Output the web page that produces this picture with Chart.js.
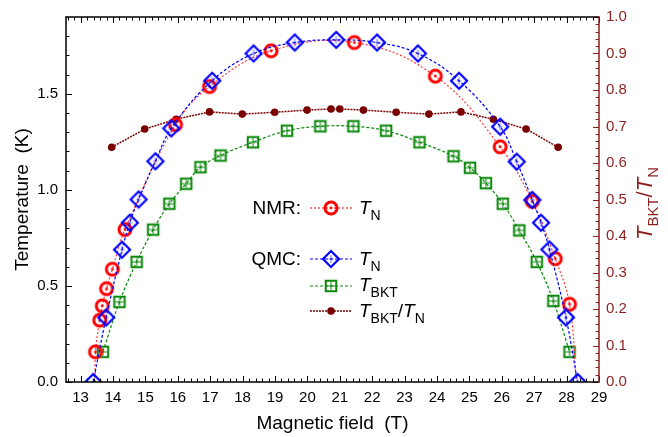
<!DOCTYPE html>
<html>
<head>
<meta charset="utf-8">
<script src="https://cdn.jsdelivr.net/npm/chart.js@4/dist/chart.umd.min.js"></script>
<style>
  html, body { margin: 0; padding: 0; background: #fff; }
  #wrap { width: 668px; height: 437px; }
</style>
</head>
<body>
<div id="wrap"><canvas id="c" width="668" height="437"></canvas></div>
<script>
// ---- NMR: Néel temperature vs magnetic field ----
const nmrField = [13.46, 13.59, 13.67, 13.80, 13.98, 14.37, 15.93, 16.98, 18.88, 21.45, 23.95, 25.95, 26.94, 27.65, 28.09];
const nmrTN    = [0.157, 0.322, 0.396, 0.486, 0.587, 0.794, 1.340, 1.538, 1.724, 1.767, 1.592, 1.224, 0.940, 0.642, 0.405];
// where the NMR guide curve meets the field axis
const nmrCurveStart = { x: 13.45, y: 0 };
const nmrCurveEnd   = { x: 28.30, y: 0 };

// ---- QMC: Néel temperature ----
const qmcField = [13.39, 13.79, 14.28, 14.52, 14.79, 15.31, 15.80, 17.06, 18.34, 19.61, 20.89,
                  22.15, 23.41, 24.68, 25.95, 26.46, 26.94, 27.21, 27.47, 27.98, 28.34];
const qmcTN    = [0.000, 0.336, 0.689, 0.829, 0.950, 1.149, 1.320, 1.568, 1.710, 1.767, 1.781,
                  1.767, 1.710, 1.568, 1.329, 1.147, 0.948, 0.829, 0.690, 0.336, 0.000];

// ---- QMC: BKT temperature ----
const bktField = [13.69, 14.20, 14.73, 15.24, 15.74, 16.26, 16.70, 17.32, 18.32, 19.37, 20.40,
                  21.42, 22.43, 23.46, 24.51, 25.02, 25.51, 26.03, 26.54, 27.08, 27.59, 28.09];
const bktT     = [0.157, 0.417, 0.625, 0.793, 0.928, 1.032, 1.118, 1.179, 1.248, 1.308, 1.331,
                  1.331, 1.308, 1.248, 1.175, 1.115, 1.035, 0.928, 0.789, 0.625, 0.422, 0.157];

// ---- QMC: ratio T_BKT / T_N (right axis) ----
const ratioField = [13.96, 14.98, 15.95, 16.98, 17.99, 18.99, 19.99, 20.73, 21.00, 21.73, 22.74, 23.75, 24.74, 25.74, 26.75, 27.74];
const ratioVals  = [0.643, 0.693, 0.720, 0.740, 0.734, 0.739, 0.745, 0.748, 0.748, 0.745, 0.739, 0.734, 0.740, 0.720, 0.693, 0.643];

// ---- tick labels ----
const fieldTicks = [13, 14, 15, 16, 17, 18, 19, 20, 21, 22, 23, 24, 25, 26, 27, 28, 29];
const tempTicks  = [0, 0.5, 1.0, 1.5];
const ratioTicks = [0, 0.1, 0.2, 0.3, 0.4, 0.5, 0.6, 0.7, 0.8, 0.9, 1.0];

const RED = '#ff0000', BLUE = '#0000ff', GREEN = '#0a870a', MAROON = '#7a0000', AXIS_RED = '#8e1f1f';
const FONT = '"Liberation Sans", Arial, sans-serif';

const pts = (xs, ys) => xs.map((x, i) => ({ x: x, y: ys[i] }));

// open marker glyphs used for the plot and the key
function markerCanvas(kind, color) {
  const s = 24, m = s / 2;
  const cv = document.createElement('canvas');
  cv.width = s; cv.height = s;
  const g = cv.getContext('2d');
  g.strokeStyle = color; g.fillStyle = color;
  if (kind === 'circle') {
    g.lineWidth = 3;
    g.beginPath(); g.arc(m, m, 6, 0, Math.PI * 2); g.stroke();
    g.beginPath(); g.arc(m, m, 1.4, 0, Math.PI * 2); g.fill();
  } else if (kind === 'diamond') {
    g.lineWidth = 2.2;
    g.beginPath();
    g.moveTo(m, m - 8); g.lineTo(m + 8, m); g.lineTo(m, m + 8); g.lineTo(m - 8, m);
    g.closePath(); g.stroke();
    g.lineWidth = 0.8; g.globalAlpha = 0.7;
    g.beginPath();
    g.moveTo(m, m - 4); g.lineTo(m, m + 4);
    g.moveTo(m - 2.5, m); g.lineTo(m + 2.5, m);
    g.stroke();
  } else if (kind === 'square') {
    g.lineWidth = 2;
    g.strokeRect(m - 5.25, m - 5.25, 10.5, 10.5);
    g.lineWidth = 1;
    g.beginPath();
    g.moveTo(m, m - 4); g.lineTo(m, m + 4);
    g.moveTo(m - 4, m); g.lineTo(m + 4, m);
    g.stroke();
  }
  return cv;
}
const circleMark = markerCanvas('circle', RED);
const diamondMark = markerCanvas('diamond', BLUE);
const squareMark = markerCanvas('square', GREEN);

// draws a run of text pieces (italic / subscript) starting at x on a baseline
function richText(ctx, pieces, x, y, color) {
  ctx.fillStyle = color;
  ctx.textBaseline = 'alphabetic';
  ctx.textAlign = 'left';
  let cx = x;
  for (const p of pieces) {
    ctx.font = (p.italic ? 'italic ' : '') + p.size + 'px ' + FONT;
    ctx.fillText(p.t, cx, y + (p.dy || 0));
    cx += ctx.measureText(p.t).width;
  }
  return cx - x;
}
function richWidth(ctx, pieces) {
  let w = 0;
  for (const p of pieces) {
    ctx.font = (p.italic ? 'italic ' : '') + p.size + 'px ' + FONT;
    w += ctx.measureText(p.t).width;
  }
  return w;
}

const frameAndKey = {
  id: 'frameAndKey',
  afterDatasetsDraw(chart) {
    const { ctx, chartArea: a, scales } = chart;
    const xs = scales.x, yl = scales.y, yr = scales.y1;
    ctx.save();

    // inward ticks: field axis (bottom and top)
    ctx.lineWidth = 1;
    ctx.strokeStyle = '#000';
    ctx.beginPath();
    for (let i = Math.ceil(xs.min / 0.2 - 1e-9); i * 0.2 <= xs.max + 1e-9; i++) {
      const px = Math.round(xs.getPixelForValue(i * 0.2)) + 0.5;
      const len = i % 5 === 0 ? 6 : 3.5;
      ctx.moveTo(px, a.bottom); ctx.lineTo(px, a.bottom - len);
      ctx.moveTo(px, a.top); ctx.lineTo(px, a.top + len);
    }
    // temperature axis (left)
    for (let i = 0; i <= 19; i++) {
      const py = Math.round(yl.getPixelForValue(i / 10)) + 0.5;
      const len = i % 5 === 0 ? 6 : 3.5;
      ctx.moveTo(a.left, py); ctx.lineTo(a.left + len, py);
    }
    ctx.stroke();
    // ratio axis (right)
    ctx.strokeStyle = AXIS_RED;
    ctx.beginPath();
    for (let i = 0; i <= 50; i++) {
      const py = Math.round(yr.getPixelForValue(i / 50)) + 0.5;
      const len = i % 5 === 0 ? 6 : 3.5;
      ctx.moveTo(a.right, py); ctx.lineTo(a.right - len, py);
    }
    ctx.stroke();

    // frame
    ctx.lineWidth = 1.5;
    ctx.strokeStyle = '#000';
    ctx.beginPath();
    ctx.moveTo(a.right, a.top); ctx.lineTo(a.left, a.top);
    ctx.lineTo(a.left, a.bottom); ctx.lineTo(a.right, a.bottom);
    ctx.stroke();
    ctx.strokeStyle = AXIS_RED;
    ctx.beginPath();
    ctx.moveTo(a.right, a.top - 0.75); ctx.lineTo(a.right, a.bottom + 0.75);
    ctx.stroke();

    // right axis title: T_BKT / T_N
    const rt = [
      { t: 'T', italic: true, size: 22 },
      { t: 'BKT', size: 15, dy: 6 },
      { t: '/', size: 22 },
      { t: 'T', italic: true, size: 22 },
      { t: 'N', size: 15, dy: 6 }
    ];
    ctx.save();
    ctx.translate(652, (a.top + a.bottom) / 2 + 4);
    ctx.rotate(-Math.PI / 2);
    richText(ctx, rt, -richWidth(ctx, rt) / 2, 0, AXIS_RED);
    ctx.restore();

    // key
    const lx0 = 310, lx1 = 352, mx = 331, tx = 359;
    ctx.font = '19px ' + FONT;
    ctx.fillStyle = '#000';
    ctx.textAlign = 'right';
    ctx.textBaseline = 'alphabetic';
    ctx.fillText('NMR:', 301, 214);
    ctx.fillText('QMC:', 301, 265);

    const keyLine = (y, color, dash, width) => {
      ctx.save();
      ctx.strokeStyle = color; ctx.lineWidth = width; ctx.setLineDash(dash);
      ctx.beginPath(); ctx.moveTo(lx0, y); ctx.lineTo(lx1, y); ctx.stroke();
      ctx.restore();
    };
    keyLine(208, RED, [2, 2], 1.2);
    ctx.drawImage(circleMark, mx - 12, 208 - 12);
    keyLine(259, BLUE, [3, 2], 1.2);
    ctx.drawImage(diamondMark, mx - 12, 259 - 12);
    keyLine(286, GREEN, [3, 2], 1.2);
    ctx.drawImage(squareMark, mx - 12, 286 - 12);
    keyLine(311, MAROON, [2, 1], 1.5);
    ctx.fillStyle = MAROON;
    ctx.beginPath(); ctx.arc(mx, 311, 3.8, 0, Math.PI * 2); ctx.fill();

    const tN = [{ t: 'T', italic: true, size: 19 }, { t: 'N', size: 14, dy: 6 }];
    const tB = [{ t: 'T', italic: true, size: 19 }, { t: 'BKT', size: 14, dy: 6 }];
    const tR = [{ t: 'T', italic: true, size: 19 }, { t: 'BKT', size: 14, dy: 6 }, { t: '/', size: 19 },
                { t: 'T', italic: true, size: 19 }, { t: 'N', size: 14, dy: 6 }];
    richText(ctx, tN, tx, 214, '#000');
    richText(ctx, tN, tx, 265, '#000');
    richText(ctx, tB, tx, 291, '#000');
    richText(ctx, tR, tx, 317, '#000');

    ctx.restore();
  }
};

const tickFont = { family: FONT, size: 15 };

new Chart(document.getElementById('c'), {
  type: 'scatter',
  data: {
    datasets: [
      {
        label: 'QMC T_N',
        data: pts(qmcField, qmcTN),
        showLine: true, tension: 0.4,
        borderColor: BLUE, borderWidth: 1.2, borderDash: [3, 2],
        pointStyle: diamondMark, pointRadius: 9,
        yAxisID: 'y', order: 1, clip: 0
      },
      {
        label: 'NMR T_N',
        data: pts(nmrField, nmrTN),
        showLine: false,
        pointStyle: circleMark, pointRadius: 8,
        yAxisID: 'y', order: 2, clip: 0
      },
      {
        label: 'NMR guide',
        data: [nmrCurveStart, ...pts(nmrField, nmrTN), nmrCurveEnd],
        showLine: true, tension: 0.4,
        borderColor: '#ff3b3b', borderWidth: 1.2, borderDash: [2, 2],
        pointRadius: 0,
        yAxisID: 'y', order: 3, clip: 0
      },
      {
        label: 'QMC T_BKT',
        data: pts(bktField, bktT),
        showLine: true, tension: 0.4,
        borderColor: GREEN, borderWidth: 1.2, borderDash: [3, 2],
        pointStyle: squareMark, pointRadius: 8,
        yAxisID: 'y', order: 4, clip: 0
      },
      {
        label: 'T_BKT/T_N',
        data: pts(ratioField, ratioVals),
        showLine: true, tension: 0,
        borderColor: MAROON, borderWidth: 1.5, borderDash: [2, 1],
        pointStyle: 'circle', pointRadius: 3.8,
        pointBackgroundColor: MAROON, pointBorderColor: MAROON, pointBorderWidth: 0,
        yAxisID: 'y1', order: 5, clip: 0
      }
    ]
  },
  options: {
    responsive: false,
    devicePixelRatio: 1,
    animation: false,
    events: [],
    layout: { padding: { top: 16, left: 0, right: 0, bottom: 0 } },
    plugins: { legend: { display: false }, tooltip: { enabled: false } },
    scales: {
      x: {
        type: 'linear', position: 'bottom',
        min: 12.55, max: 29,
        grid: { display: false, drawTicks: false },
        border: { display: false },
        afterBuildTicks: (s) => { s.ticks = fieldTicks.map(v => ({ value: v })); },
        afterFit: (s) => { s.height = 55; },
        ticks: { color: '#000', font: tickFont, padding: 7, maxRotation: 0, autoSkip: false,
                 callback: (v) => String(v) },
        title: { display: true, text: 'Magnetic field  (T)', color: '#000',
                 font: { family: FONT, size: 19 }, padding: { top: 0, bottom: 2 } }
      },
      y: {
        type: 'linear', position: 'left',
        min: 0, max: 1.9,
        grid: { display: false, drawTicks: false },
        border: { display: false },
        afterBuildTicks: (s) => { s.ticks = tempTicks.map(v => ({ value: v })); },
        afterFit: (s) => { s.width = 66; },
        ticks: { color: '#000', font: tickFont, padding: 8, autoSkip: false,
                 callback: (v) => Number(v).toFixed(1) },
        title: { display: true, text: 'Temperature  (K)', color: '#000',
                 font: { family: FONT, size: 19 }, padding: { top: 11, bottom: 0 } }
      },
      y1: {
        type: 'linear', position: 'right',
        min: 0, max: 1,
        grid: { display: false, drawTicks: false },
        border: { display: false },
        afterBuildTicks: (s) => { s.ticks = ratioTicks.map(v => ({ value: v })); },
        afterFit: (s) => { s.width = 69; },
        ticks: { color: AXIS_RED, font: tickFont, padding: 7, autoSkip: false,
                 callback: (v) => Number(v).toFixed(1) }
      }
    }
  },
  plugins: [frameAndKey]
});
</script>
</body>
</html>
